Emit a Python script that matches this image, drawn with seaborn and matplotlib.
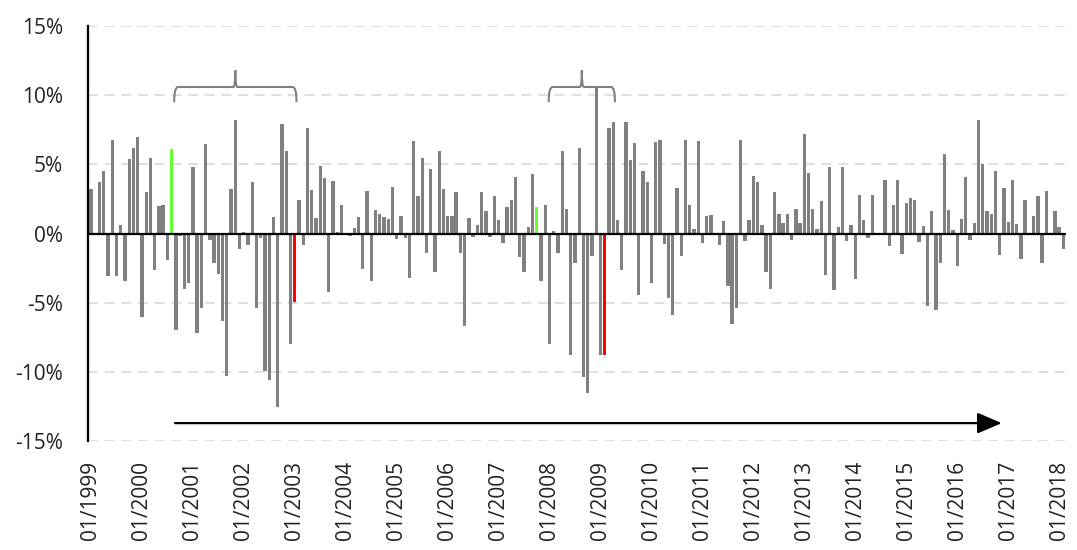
import numpy as np
import pandas as pd
import matplotlib
matplotlib.use("Agg")
import matplotlib.pyplot as plt
import seaborn as sns
from matplotlib.path import Path
from matplotlib.patches import PathPatch

sns.set_style("white")
plt.rcParams['font.family'] = ['Open Sans', 'DejaVu Sans']

# monthly returns (%), 01/1999 .. 02/2018
returns = [
    3.25, -0.1, 3.7, 4.5, -3.1, 6.8, -3.1, 0.6, -3.4, 5.4, 6.2, 7.0,
    -6.0, 3.0, 5.5, -2.6, 2.0, 2.05, -1.9, 6.15, -7.0, -0.2, -4.0, -3.6,
    4.8, -7.2, -5.4, 6.5, -0.45, -2.1, -2.9, -6.3, -10.3, 3.2, 8.2, -1.1,
    0.1, -0.85, 3.7, -5.4, -0.35, -9.9, -10.6, 1.2, -12.5, 7.9, 6.0,
    -8.0, -4.95, 2.45, -0.8, 7.65, 3.15, 1.1, 4.9, 4.0, -4.2, 3.8, 0.1,
    2.1, 0.0, -0.15, 0.4, 1.2, -2.55, 3.1, -3.45, 1.7, 1.45, 1.2, 1.05,
    3.4, -0.4, 1.3, -0.35, -3.2, 6.7, 2.7, 5.5, -1.4, 4.7, -2.75, 6.0,
    3.2, 1.3, 1.3, 3.0, -1.4, -6.7, 1.1, -0.25, 0.65, 3.0, 1.6,
    -0.25, 2.7, 1.0, -0.65, 1.9, 2.4, 4.1, -1.7, -2.8, 0.45, 4.3, 1.9,
    -3.4, 2.1, -8.0, 0.2, -1.4, 5.95, 1.75, -8.8, -2.1, 6.2, -10.4, -11.5,
    -1.6, 10.55, -8.8, -8.75, 7.6, 8.1, 1.0, -2.6, 8.05, 5.35, 6.55, -4.45,
    4.55, 3.7, -3.6, 6.6, 6.8, -0.75, -4.65, -5.9, 3.3, -1.65, 6.8,
    2.1, 0.35, 6.7, -0.7, 1.3, 1.35, 0.0, -0.85, 0.9, -3.8, -6.55, -5.35,
    6.8, -0.5, 1.0, 4.2, 3.75, 0.6, -2.75, -4.0, 3.0, 1.45, 0.75, 1.45,
    -0.45, 1.8, 0.8, 7.2, 4.4, 1.75, 0.3, 2.35, -3.0, 4.8, -4.1, 0.45,
    4.85, -0.55, 0.6, -3.25, 2.8, 0.95, -0.35, 2.8, 0.05, -0.1, 3.9,
    -0.9, 2.05, 3.85, -1.5, 2.2, 2.6, 2.45, -0.6, 0.55, -5.25, 1.6, -5.5,
    -2.1, 5.75, 1.7, 0.25, -2.35, 1.05, 4.1, -0.45, 0.75, 8.2, 5.0, 1.65,
    1.45, 4.55, -1.55, 3.3, 0.85, 3.9, 0.7, -1.85, 2.4, -0.1, 1.25, 2.7,
    -2.1, 3.1, 0.0, 1.65, 0.5, -1.1,
]
peak_months = [19, 105]     # 08/2000, 10/2007
trough_months = [48, 121]   # 01/2003, 02/2009
years = list(range(1999, 2019))

df = pd.DataFrame({'month': range(len(returns)), 'ret': returns})

fig = plt.figure(figsize=(10.77, 5.5), dpi=100)
ax = fig.add_axes([0.0817, 0.198, 0.908, 0.7545])

sns.barplot(data=df, x='month', y='ret', color='#808080', saturation=1,
            width=0.78, linewidth=0, ax=ax)
for i, bar in enumerate(ax.patches):
    if i in peak_months:
        bar.set_facecolor('#66FF33')
    elif i in trough_months:
        bar.set_facecolor('#FF0000')

ax.set_ylim(-15, 15)
ax.set_xlim(-0.7, len(returns) - 0.4)
ax.set_yticks(range(-15, 16, 5))
ax.set_yticklabels([f"{v}%" for v in range(-15, 16, 5)])
ax.set_xticks([12 * i for i in range(len(years))])
ax.set_xticklabels([f"01/{y}" for y in years], rotation=90)
ax.tick_params(axis='y', length=0, pad=18, labelsize=15, labelcolor='#222222')
ax.tick_params(axis='x', length=0, pad=14, labelsize=15, labelcolor='#222222')
ax.set_xlabel('')
ax.set_ylabel('')

for v in range(-15, 16, 5):
    if v != 0:
        ax.axhline(v, color='#d9d9d9', lw=1.2, dashes=(6, 4), zorder=0)
ax.axhline(0, color='black', lw=1.6, zorder=3)

for s in ['top', 'right', 'bottom']:
    ax.spines[s].set_visible(False)
ax.spines['left'].set_color('black')
ax.spines['left'].set_linewidth(1.6)


def brace(x0, x1, ybar=10.6, yend=9.5, ytip=11.8, r=0.9, c=0.5):
    xm = (x0 + x1) / 2
    verts = [(x0, yend), (x0, ybar), (x0 + r, ybar),
             (xm - c, ybar), (xm, ybar), (xm, ytip),
             (xm, ybar), (xm + c, ybar),
             (x1 - r, ybar), (x1, ybar), (x1, yend)]
    codes = [Path.MOVETO, Path.CURVE3, Path.CURVE3,
             Path.LINETO, Path.CURVE3, Path.CURVE3,
             Path.CURVE3, Path.CURVE3,
             Path.LINETO, Path.CURVE3, Path.CURVE3]
    ax.add_patch(PathPatch(Path(verts, codes), fill=False, edgecolor='#808080',
                           lw=1.5, zorder=4))


brace(19.6, 48.4)
brace(107.8, 123.4)

ax.annotate('', xy=(214.5, -13.7), xytext=(19.8, -13.7),
            arrowprops=dict(arrowstyle='-|>,head_length=0.75,head_width=0.32',
                            color='black', lw=1.6, mutation_scale=20,
                            shrinkA=0, shrinkB=0))

fig.savefig('out.png', dpi=100)
